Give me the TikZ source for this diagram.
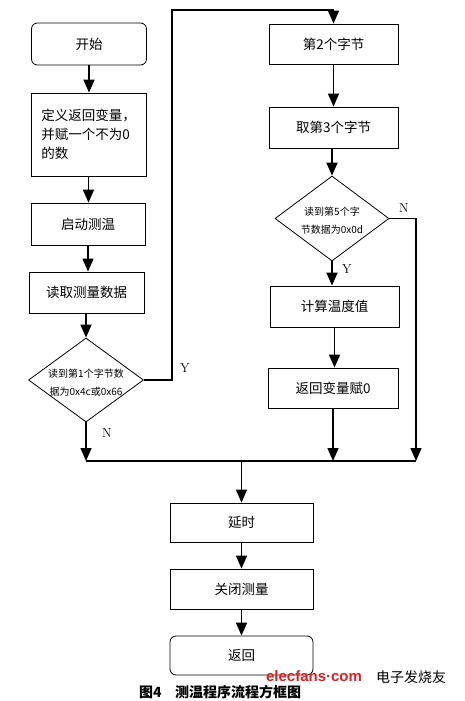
\documentclass[tikz,border=0pt]{standalone}
\usepackage{fontspec}
\newfontfamily\cjk{Noto Sans CJK SC}
\newfontfamily\wmfont{Liberation Sans}
\usetikzlibrary{shapes.geometric,arrows.meta}
\definecolor{wmred}{RGB}{215,35,35}
\begin{document}
\begin{tikzpicture}[x=1pt,y=-1pt,
  box/.style={draw, line width=0.8pt, inner sep=0pt, font=\cjk\fontsize{13.5}{19}\selectfont, align=center},
  rbox/.style={box, rounded corners=6pt},
  dia/.style={draw, diamond, line width=0.8pt, inner sep=0pt},
  dtext/.style={font=\cjk\fontsize{10}{18}\selectfont, align=center, inner sep=0pt},
  arr/.style={line width=1.5pt, -{Triangle[length=13pt,width=11pt]}},
  conn/.style={line width=1.2pt},
  yn/.style={font=\fontsize{13}{15}\selectfont, inner sep=0pt}
]
\useasboundingbox (0,0) rectangle (464,701);
\fill[white] (0,0) rectangle (464,701);

% left column
\node[rbox, minimum width=115pt, minimum height=42pt] (b1) at (89,44) {开始};
\node[box, align=left, minimum width=115pt, minimum height=83pt] (b2) at (88.5,134.5) {定义返回变量，\\并赋一个不为0\\的数};
\node[box, minimum width=114pt, minimum height=42pt] (b3) at (88,224) {启动测温};
\node[box, minimum width=115pt, minimum height=41pt] (b4) at (86.5,292.5) {读取测量数据};
\node[dia, minimum width=115pt, minimum height=84pt] (d1) at (86,380) {};
\node[dtext] (d1t) at (86,383) {读到第1个字节数\\据为0x4c或0x66};

% right column
\node[box, minimum width=129pt, minimum height=40pt] (b5) at (333.5,44) {第2个字节};
\node[box, minimum width=129pt, minimum height=41pt] (b6) at (333.5,127.5) {取第3个字节};
\node[dia, minimum width=114pt, minimum height=85pt] (d2) at (332,218.5) {};
\node[dtext] (d2t) at (332,221) {读到第5个字\\节数据为0x0d};
\node[box, minimum width=129pt, minimum height=41pt] (b7) at (334.5,306.5) {计算温度值};
\node[box, minimum width=130pt, minimum height=40pt] (b8) at (333,388) {返回变量赋0};

% bottom column
\node[box, minimum width=143pt, minimum height=39pt] (b9) at (241.5,522.5) {延时};
\node[box, minimum width=143pt, minimum height=40pt] (b10) at (241.5,589) {关闭测量};
\node[rbox, minimum width=143pt, minimum height=39pt] (b11) at (241.5,655.5) {返回};

% coordinates
\coordinate (ytop) at (172,10);
\coordinate (mL) at (86,461);
\coordinate (mR) at (416,461);

% connectors
\draw[arr] (b1.south) -- (b1.south |- b2.north);
\draw[arr] (b2.south) -- (b2.south |- b3.north);
\draw[arr] (b3.south) -- (b3.south |- b4.north);
\draw[arr] (b4.south -| d1.north) -- (d1.north);
\draw[arr] (d1.east) -| (ytop) -| (b5.north);
\draw[arr] (b5.south) -- (b5.south |- b6.north);
\draw[arr] (b6.south -| d2.north) -- (d2.north);
\draw[arr] (d2.south) -- (b7.north -| d2.south);
\draw[arr] (b7.south) -- (b7.south |- b8.north);
\draw[conn] (mL) -- (mR);
\draw[arr] (d1.south) -- (mL);
\draw[arr] (b8.south) -- (b8.south |- mL);
\draw[arr] (d2.east) -| (mR);
\draw[arr] (b9.north |- mL) -- (b9.north);
\draw[arr] (b9) -- (b10);
\draw[arr] (b10) -- (b11);

% labels
\node[yn] (ly1) at (185,368) {Y};
\node[yn] (ln1) at (107,433) {N};
\node[yn] (ln2) at (404,208) {N};
\node[yn] (ly2) at (347,269) {Y};

% caption
\node[anchor=west, inner sep=0pt, font=\cjk\bfseries\fontsize{14}{16}\selectfont] (cap1) at (139,692) {图4};
\node[anchor=west, inner sep=0pt, font=\cjk\bfseries\fontsize{14}{16}\selectfont] (cap2) at (175,692) {测温程序流程方框图};

% watermark
\node[inner sep=0pt, text=wmred, font=\wmfont\bfseries\fontsize{15}{17}\selectfont] (wm1) at (314,676) {elecfans·com};
\node[inner sep=0pt, font=\cjk\fontsize{14}{16}\selectfont] (wm2) at (411,677) {电子发烧友};
\end{tikzpicture}
\end{document}
